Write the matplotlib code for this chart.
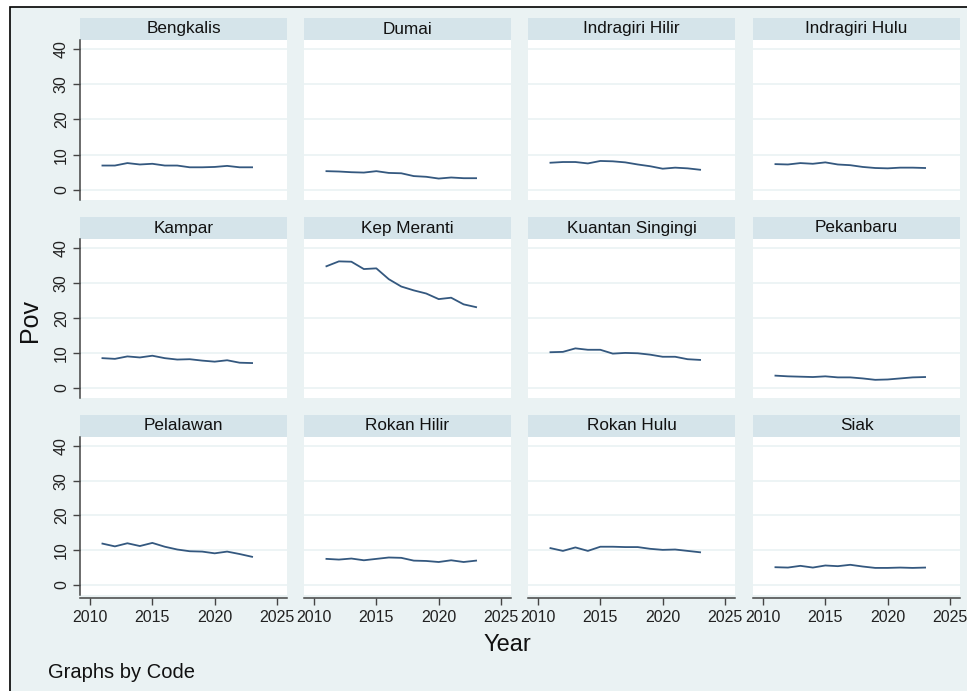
import matplotlib
matplotlib.use("Agg")
import matplotlib.pyplot as plt
from matplotlib.patches import Rectangle

plt.rcParams["font.family"] = ["Liberation Sans", "DejaVu Sans"]

years = list(range(2011, 2024))

names = [
    "Bengkalis", "Dumai", "Indragiri Hilir", "Indragiri Hulu",
    "Kampar", "Kep Meranti", "Kuantan Singingi", "Pekanbaru",
    "Pelalawan", "Rokan Hilir", "Rokan Hulu", "Siak",
]

bengkalis = [6.9, 6.9, 7.6, 7.2, 7.4, 6.9, 6.9, 6.4, 6.4, 6.5, 6.8, 6.4, 6.4]
dumai = [5.3, 5.2, 5.0, 4.9, 5.3, 4.8, 4.7, 3.9, 3.7, 3.2, 3.5, 3.3, 3.3]
indragiri_hilir = [7.7, 7.9, 7.9, 7.5, 8.2, 8.1, 7.8, 7.2, 6.7, 6.0, 6.3, 6.1, 5.7]
indragiri_hulu = [7.3, 7.2, 7.6, 7.4, 7.8, 7.2, 7.0, 6.5, 6.2, 6.1, 6.3, 6.3, 6.2]
kampar = [8.5, 8.3, 9.0, 8.7, 9.2, 8.5, 8.1, 8.2, 7.8, 7.5, 7.9, 7.2, 7.1]
kep_meranti = [34.8, 36.2, 36.1, 34.0, 34.2, 31.1, 29.0, 27.9, 27.0, 25.4, 25.8, 23.9, 23.1]
kuantan_singingi = [10.2, 10.3, 11.3, 10.9, 10.9, 9.8, 10.0, 9.9, 9.5, 8.9, 8.9, 8.2, 8.0]
pekanbaru = [3.5, 3.3, 3.2, 3.1, 3.3, 3.0, 3.0, 2.7, 2.3, 2.4, 2.7, 3.0, 3.1]
pelalawan = [11.9, 11.1, 12.0, 11.2, 12.1, 11.0, 10.2, 9.7, 9.6, 9.1, 9.6, 8.9, 8.1]
rokan_hilir = [7.5, 7.3, 7.6, 7.1, 7.5, 7.9, 7.8, 7.0, 6.9, 6.6, 7.1, 6.6, 7.0]
rokan_hulu = [10.6, 9.8, 10.8, 9.8, 11.0, 11.0, 10.9, 10.9, 10.4, 10.1, 10.2, 9.8, 9.4]
siak = [5.1, 5.0, 5.5, 5.0, 5.6, 5.4, 5.8, 5.3, 4.9, 4.9, 5.0, 4.9, 5.0]

series = [
    bengkalis, dumai, indragiri_hilir, indragiri_hulu,
    kampar, kep_meranti, kuantan_singingi, pekanbaru,
    pelalawan, rokan_hilir, rokan_hulu, siak,
]

y_ticks = [0, 10, 20, 30, 40]
x_ticks = [2010, 2015, 2020, 2025]

W, H = 967, 691
BG = "#eaf2f3"
STRIP = "#d5e4ea"
LINE = "#34587f"
AXC = "#444444"

fig = plt.figure(figsize=(W / 100, H / 100), dpi=100)
fig.patch.set_facecolor("white")


def box(x0, y0, x1, y1):
    # pixel box (top-left origin) -> figure fraction rect
    return [x0 / W, 1 - y1 / H, (x1 - x0) / W, (y1 - y0) / H]


# outer frame (only top and left edges fall inside the image)
frame = Rectangle((10 / W, -0.01), 1.0, 1 - 7 / H + 0.01, transform=fig.transFigure,
                  facecolor=BG, edgecolor="black", linewidth=1.2, zorder=-5)
fig.patches.append(frame)

col_x = [80, 304, 528, 753]
pw = 207
rows = [(18, 40, 200), (217, 239, 398), (415, 437, 595)]

for i, (name, vals) in enumerate(zip(names, series)):
    r, c = divmod(i, 4)
    hy0, py0, py1 = rows[r]
    x0 = col_x[c]

    hax = fig.add_axes(box(x0, hy0, x0 + pw, py0))
    hax.set_facecolor(STRIP)
    hax.set_xticks([])
    hax.set_yticks([])
    for s in hax.spines.values():
        s.set_visible(False)
    hax.text(0.5, 0.5, name, ha="center", va="center", fontsize=12.3, color="#111111",
             transform=hax.transAxes)

    ax = fig.add_axes(box(x0, py0, x0 + pw, py1))
    ax.set_facecolor("white")
    ax.plot(years, vals, color=LINE, linewidth=1.3)
    ax.set_xlim(2009.2, 2025.8)
    ax.set_ylim(-2.9, 42.6)
    ax.set_yticks(y_ticks)
    ax.set_xticks(x_ticks)
    ax.grid(axis="y", color=BG, linewidth=1.2)
    ax.set_axisbelow(True)
    for s in ax.spines.values():
        s.set_visible(False)

    if c == 0:
        ax.spines["left"].set_visible(True)
        ax.spines["left"].set_color(AXC)
        ax.spines["left"].set_linewidth(1.1)
        ax.tick_params(axis="y", direction="out", length=5, width=1, color=AXC,
                       labelsize=11.5, labelcolor="#222222", pad=3)
        for lab in ax.get_yticklabels():
            lab.set_rotation(90)
            lab.set_va("center")
    else:
        ax.tick_params(axis="y", left=False, labelleft=False)

    if r == 2:
        ax.spines["bottom"].set_visible(True)
        ax.spines["bottom"].set_color(AXC)
        ax.spines["bottom"].set_linewidth(1.1)
        ax.spines["bottom"].set_position(("outward", 2))
        ax.tick_params(axis="x", direction="out", length=5, width=1, color=AXC,
                       labelsize=11.5, labelcolor="#222222", pad=4)
    else:
        ax.tick_params(axis="x", bottom=False, labelbottom=False)

fig.text(30 / W, 1 - 321 / H, "Pov", rotation=90, ha="center", va="center", fontsize=18, color="#111111")
fig.text(507 / W, 1 - 645 / H, "Year", ha="center", va="center", fontsize=17, color="#111111")
fig.text(48 / W, 1 - 672 / H, "Graphs by Code", ha="left", va="center", fontsize=14.5, color="#111111")

fig.savefig("out.png", dpi=100, facecolor=fig.get_facecolor())
